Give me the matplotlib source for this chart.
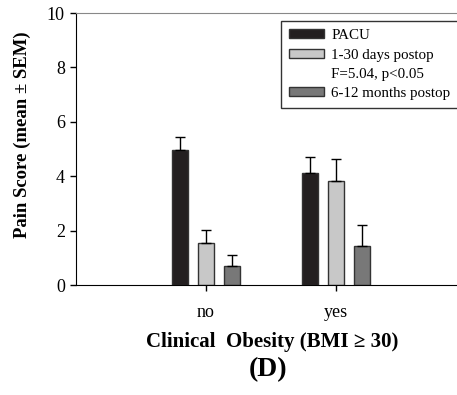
import matplotlib
matplotlib.use("Agg")
import matplotlib.pyplot as plt
import numpy as np
from matplotlib.patches import Patch

plt.rcParams['font.family'] = ['Liberation Serif', 'DejaVu Serif']

groups = ['no', 'yes']
series = ['PACU', '1-30 days postop', '6-12 months postop']
means = {
    'PACU': [4.95, 4.10],
    '1-30 days postop': [1.56, 3.83],
    '6-12 months postop': [0.70, 1.42],
}
sems = {
    'PACU': [0.50, 0.60],
    '1-30 days postop': [0.48, 0.80],
    '6-12 months postop': [0.40, 0.77],
}
colors = ['#231f20', '#c8c8c8', '#787878']
stat_text = 'F=5.04, p<0.05'

W, H = 457, 395
fig = plt.figure(figsize=(W / 100, H / 100), dpi=100)
ax = fig.add_axes([76 / W, 1 - 285 / H, 390 / W, 272 / H])

x = np.arange(len(groups))
width = 0.128
offsets = [-0.2, 0.0, 0.2]
for name, c, off in zip(series, colors, offsets):
    ax.bar(x + off, means[name], width, color=c, edgecolor='#333333', linewidth=1,
           yerr=[np.zeros(len(groups)), sems[name]],
           error_kw=dict(ecolor='black', elinewidth=1, capsize=3.5, capthick=1))

ax.set_xlim(-1, 2)
ax.set_ylim(0, 10)
ax.set_xticks(x)
ax.set_xticklabels(groups)
ax.set_yticks(range(0, 11, 2))
ax.tick_params(axis='both', labelsize=13, direction='out', length=4, width=1)
ax.tick_params(axis='x', pad=10)
ax.tick_params(axis='y', pad=4)
ax.spines['top'].set_color('#888888')
ax.spines['right'].set_visible(False)

fig.text(272 / W, 1 - 342 / H, 'Clinical  Obesity (BMI \u2265 30)', ha='center', va='center',
         fontsize=15, fontweight='bold')
fig.text(268 / W, 1 - 370 / H, '(D)', ha='center', va='center', fontsize=20, fontweight='bold')
fig.text(22 / W, 1 - 135 / H, 'Pain Score (mean \u00b1 SEM)', ha='center', va='center',
         rotation=90, fontsize=13.5, fontweight='bold')

handles = [Patch(facecolor=colors[0], edgecolor='#333333'),
           Patch(facecolor=colors[1], edgecolor='#333333'),
           Patch(facecolor='none', edgecolor='none'),
           Patch(facecolor=colors[2], edgecolor='#333333')]
labels = [series[0], series[1], stat_text, series[2]]
leg = fig.legend(handles, labels, loc='upper left', bbox_to_anchor=(281 / W, 1 - 21 / H),
                 fontsize=10.8, frameon=True, fancybox=False, shadow=False,
                 handlelength=2.3, handleheight=0.55, handletextpad=0.5,
                 labelspacing=0.42, borderpad=0.55, borderaxespad=0)
leg.get_frame().set_edgecolor('black')
leg.get_frame().set_linewidth(1)

fig.savefig('out.png', dpi=100)
